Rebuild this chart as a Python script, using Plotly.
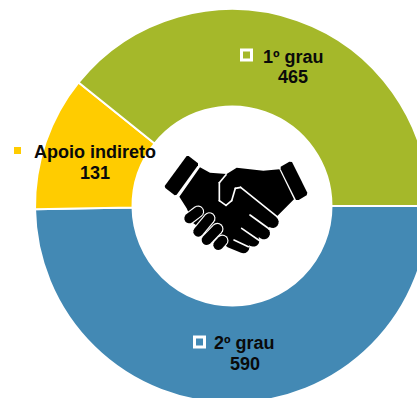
import numpy as np
import plotly.graph_objects as go

labels = ["2º grau", "Apoio indireto", "1º grau"]
values = [590, 131, 465]
colors = ["#4389B4", "#FFCC00", "#A5B82A"]

W, H = 440, 420
CX, CY, R = 232, 206, 197
ICON = "#000000"


def fx(x):
    return x / W


def fy(y):
    return 1 - y / H


def zoom_xy(p):
    return 130 + p[0] / 3, 130 + p[1] / 3


def path(points):
    pts = [zoom_xy(p) for p in points]
    return "M" + "L".join(f"{fx(x):.5f},{fy(y):.5f}" for x, y in pts) + "Z"


def capsule(a, b, width):
    a, b = np.array(a, float), np.array(b, float)
    ang = np.arctan2(*(b - a)[::-1])
    r = width / 2
    pts = []
    for c, start in ((b, ang - np.pi / 2), (a, ang + np.pi / 2)):
        for t in np.linspace(0, np.pi, 9):
            pts.append((c[0] + r * np.cos(start + t), c[1] + r * np.sin(start + t)))
    return path(pts)


def filled(d, color=ICON):
    return dict(type="path", path=d, xref="paper", yref="paper",
                fillcolor=color, line=dict(width=0), layer="above")


shapes = []
# Handshake icon: cuffs
shapes.append(filled(path([(170, 78), (176, 78), (204, 100), (204, 106), (140, 194), (134, 196),
                           (106, 174), (104, 168)])))
shapes.append(filled(path([(478, 95), (486, 96), (532, 188), (530, 196), (506, 210), (498, 210),
                           (452, 118), (452, 110)])))
# Hands
shapes.append(filled(path([
    (210, 112), (240, 128), (290, 132), (320, 113), (400, 122), (448, 118),
    (492, 208), (442, 258), (430, 275), (405, 310), (372, 332), (340, 352),
    (295, 345), (250, 320), (190, 280), (170, 235), (148, 200)])))
# Right-hand fingers
for a, b in [((375, 235), (428, 276)), ((350, 272), (402, 310)),
             ((328, 308), (370, 332)), ((300, 335), (340, 352))]:
    shapes.append(filled(capsule(a, b, 36)))
# White outlines of the thumb and between fingers
for a, b in [((288, 134), (268, 158)), ((268, 158), (268, 212)),
             ((268, 212), (288, 226)), ((288, 226), (305, 212)),
             ((305, 212), (316, 175)), ((316, 175), (332, 172)),
             ((332, 172), (444, 262)),
             ((360, 255), (418, 297)), ((335, 295), (390, 333)),
             ((312, 330), (355, 350))]:
    shapes.append(filled(capsule(a, b, 5), "#FFFFFF"))
# Left-hand fingers
for a, b in [((178, 265), (204, 245)), ((205, 305), (238, 265)),
             ((230, 330), (262, 297)), ((265, 345), (277, 332))]:
    shapes.append(filled(capsule(a, b, 37), "#FFFFFF"))
    shapes.append(filled(capsule(a, b, 30)))


def square(x, y, size, fill, line, lw):
    half = size / 2
    return dict(type="rect", xref="paper", yref="paper", x0=fx(x - half), x1=fx(x + half),
                y0=fy(y + half), y1=fy(y - half), fillcolor=fill,
                line=dict(color=line, width=lw), layer="above")


shapes.append(square(246.5, 55, 10, colors[2], "#FFFFFF", 3))
shapes.append(square(199.5, 342, 10, colors[0], "#FFFFFF", 3))
shapes.append(dict(type="rect", xref="paper", yref="paper", x0=fx(14), x1=fx(21),
                   y0=fy(154), y1=fy(147), fillcolor=colors[1], line=dict(width=0)))

positions = {"1º grau": (293, 57, 77), "Apoio indireto": (95, 152, 173), "2º grau": (245, 343, 364)}
annotations = []
for name, val in zip(labels, values):
    x, y_name, y_val = positions[name]
    for text, y in ((name, y_name), (str(val), y_val)):
        annotations.append(dict(
            text=f"<b>{text}</b>", x=fx(x), y=fy(y), xref="paper", yref="paper",
            showarrow=False, xanchor="center", yanchor="middle",
            font=dict(family="Liberation Sans, Arial, sans-serif", size=18, color="#0A0A0A")))

fig = go.Figure(go.Pie(
    labels=labels, values=values, hole=0.505, sort=False, direction="clockwise",
    rotation=90, textinfo="none", hoverinfo="label+value",
    marker=dict(colors=colors, line=dict(color="#FFFFFF", width=2)),
    domain=dict(x=[fx(CX - R), fx(CX + R)], y=[fy(CY + R), fy(CY - R)]),
))
fig.update_layout(width=W, height=H, margin=dict(l=0, r=0, t=0, b=0),
                  paper_bgcolor="#FFFFFF", plot_bgcolor="#FFFFFF", showlegend=False,
                  shapes=shapes, annotations=annotations)
fig.write_html("out.html", config=dict(displayModeBar=False),
               post_script="document.documentElement.style.overflow='hidden';"
                           "document.body.style.overflow='hidden';"
                           "document.body.style.margin='0';")
